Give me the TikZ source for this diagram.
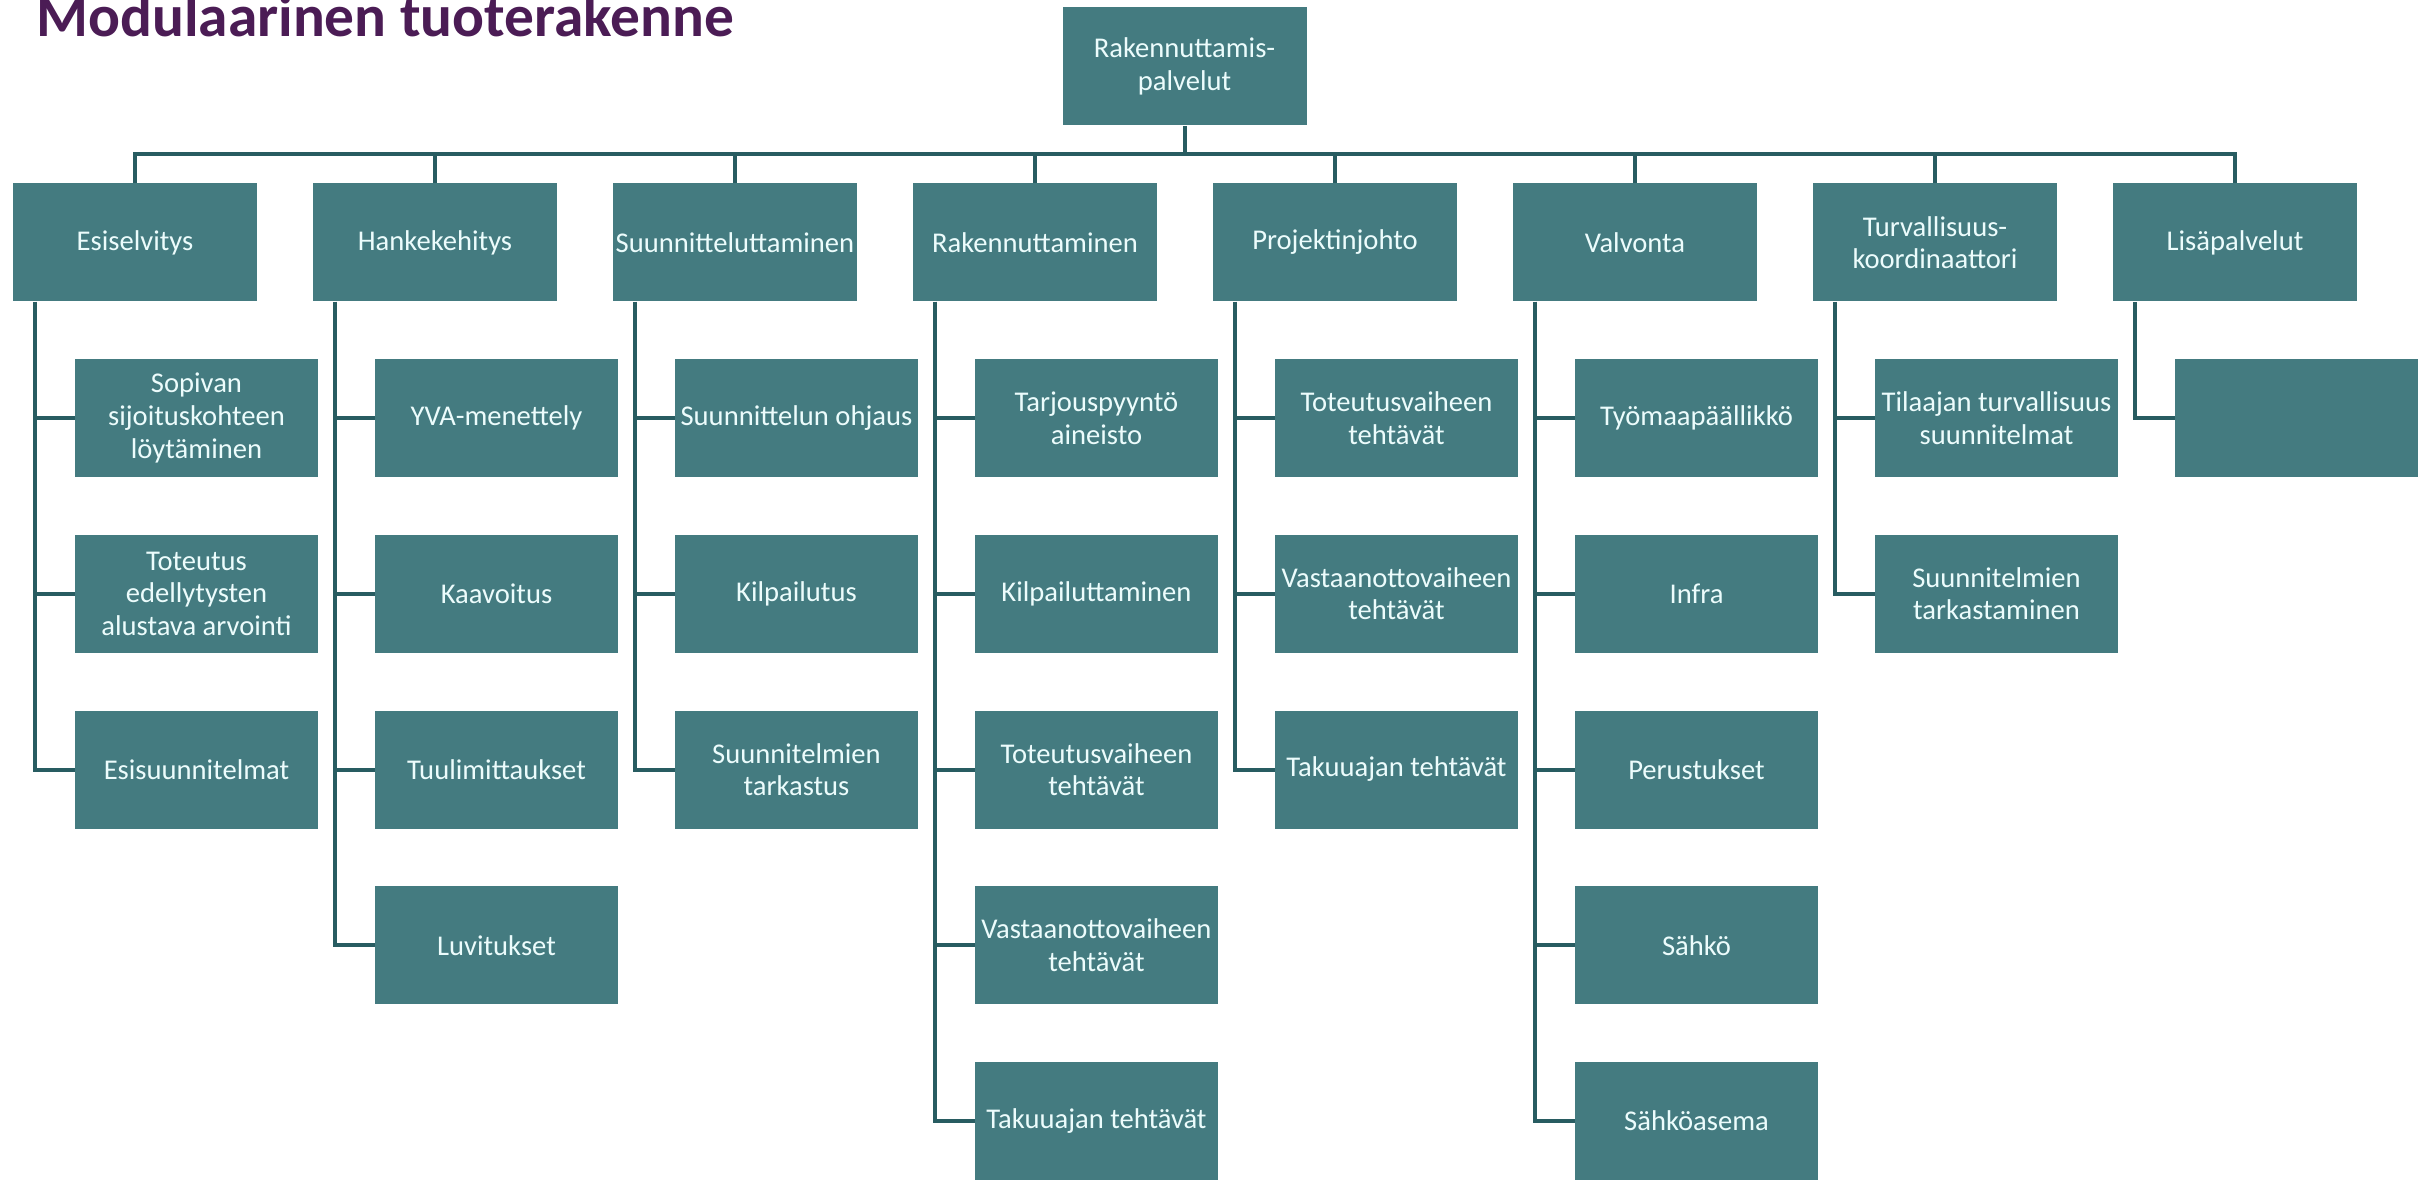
\documentclass[tikz,border=0pt]{standalone}
\usepackage{fontspec}
\setmainfont{Carlito}
\definecolor{boxfill}{RGB}{68,123,128}
\definecolor{linec}{RGB}{40,92,97}
\definecolor{titlec}{RGB}{75,28,85}
\definecolor{txt}{RGB}{236,252,252}
\begin{document}
\begin{tikzpicture}[x=0.5pt,y=-0.5pt,
  box/.style={fill=boxfill, text=txt, minimum width=122pt, minimum height=59pt,
    inner sep=0pt, align=center, font=\fontsize{14.3pt}{16.3pt}\selectfont},
  cbox/.style={box, minimum width=121.5pt},
  conn/.style={draw=linec, line width=2pt}]
\useasboundingbox (0,0) rectangle (2425,1182);

\node[anchor=base west, inner sep=0pt, text=titlec,
  font=\fontsize{29.7pt}{32pt}\selectfont\bfseries] (title) at (36,37) {Modulaarinen tuoterakenne};

% root
\node[box] (root) at (1184.5,66.5) {Rakennuttamis-\\palvelut};

% level 1
\node[box] (l0) at (135,242.5) {Esiselvitys};
\node[box] (l1) at (435,242.5) {Hankekehitys};
\node[box] (l2) at (735,242.5) {Suunnitteluttaminen};
\node[box] (l3) at (1035,242.5) {Rakennuttaminen};
\node[box] (l4) at (1335,242.5) {Projektinjohto};
\node[box] (l5) at (1635,242.5) {Valvonta};
\node[box] (l6) at (1935,242.5) {Turvallisuus-\\koordinaattori};
\node[box] (l7) at (2235,242.5) {Lisäpalvelut};

% children column 0
\node[cbox] (c0a) at (196.5,418) {Sopivan\\sijoituskohteen\\löytäminen};
\node[cbox] (c0b) at (196.5,593.75) {Toteutus\\edellytysten\\alustava arvointi};
\node[cbox] (c0c) at (196.5,769.5) {Esisuunnitelmat};
% column 1
\node[cbox] (c1a) at (496.5,418) {YVA-menettely};
\node[cbox] (c1b) at (496.5,593.75) {Kaavoitus};
\node[cbox] (c1c) at (496.5,769.5) {Tuulimittaukset};
\node[cbox] (c1d) at (496.5,945.25) {Luvitukset};
% column 2
\node[cbox] (c2a) at (796.5,418) {Suunnittelun ohjaus};
\node[cbox] (c2b) at (796.5,593.75) {Kilpailutus};
\node[cbox] (c2c) at (796.5,769.5) {Suunnitelmien\\tarkastus};
% column 3
\node[cbox] (c3a) at (1096.5,418) {Tarjouspyyntö\\aineisto};
\node[cbox] (c3b) at (1096.5,593.75) {Kilpailuttaminen};
\node[cbox] (c3c) at (1096.5,769.5) {Toteutusvaiheen\\tehtävät};
\node[cbox] (c3d) at (1096.5,945.25) {Vastaanottovaiheen\\tehtävät};
\node[cbox] (c3e) at (1096.5,1121) {Takuuajan tehtävät};
% column 4
\node[cbox] (c4a) at (1396.5,418) {Toteutusvaiheen\\tehtävät};
\node[cbox] (c4b) at (1396.5,593.75) {Vastaanottovaiheen\\tehtävät};
\node[cbox] (c4c) at (1396.5,769.5) {Takuuajan tehtävät};
% column 5
\node[cbox] (c5a) at (1696.5,418) {Työmaapäällikkö};
\node[cbox] (c5b) at (1696.5,593.75) {Infra};
\node[cbox] (c5c) at (1696.5,769.5) {Perustukset};
\node[cbox] (c5d) at (1696.5,945.25) {Sähkö};
\node[cbox] (c5e) at (1696.5,1121) {Sähköasema};
% column 6
\node[cbox] (c6a) at (1996.5,418) {Tilaajan turvallisuus\\suunnitelmat};
\node[cbox] (c6b) at (1996.5,593.75) {Suunnitelmien\\tarkastaminen};
% column 7
\node[cbox] (c7a) at (2296.5,418) {};

% bus
\coordinate (bus) at (1184.5,154);
\draw[conn] (root.south) -- (bus);
\foreach \n in {l0,l1,l2,l3,l4,l5,l6,l7}
  \draw[conn] (\n.north) |- (bus);

% spines
\foreach \p/\c in {l0/c0a,l0/c0b,l0/c0c,
                   l1/c1a,l1/c1b,l1/c1c,l1/c1d,
                   l2/c2a,l2/c2b,l2/c2c,
                   l3/c3a,l3/c3b,l3/c3c,l3/c3d,l3/c3e,
                   l4/c4a,l4/c4b,l4/c4c,
                   l5/c5a,l5/c5b,l5/c5c,l5/c5d,l5/c5e,
                   l6/c6a,l6/c6b,
                   l7/c7a}
  \draw[conn] ([xshift=11pt]\p.south west) |- (\c.west);
\end{tikzpicture}
\end{document}
